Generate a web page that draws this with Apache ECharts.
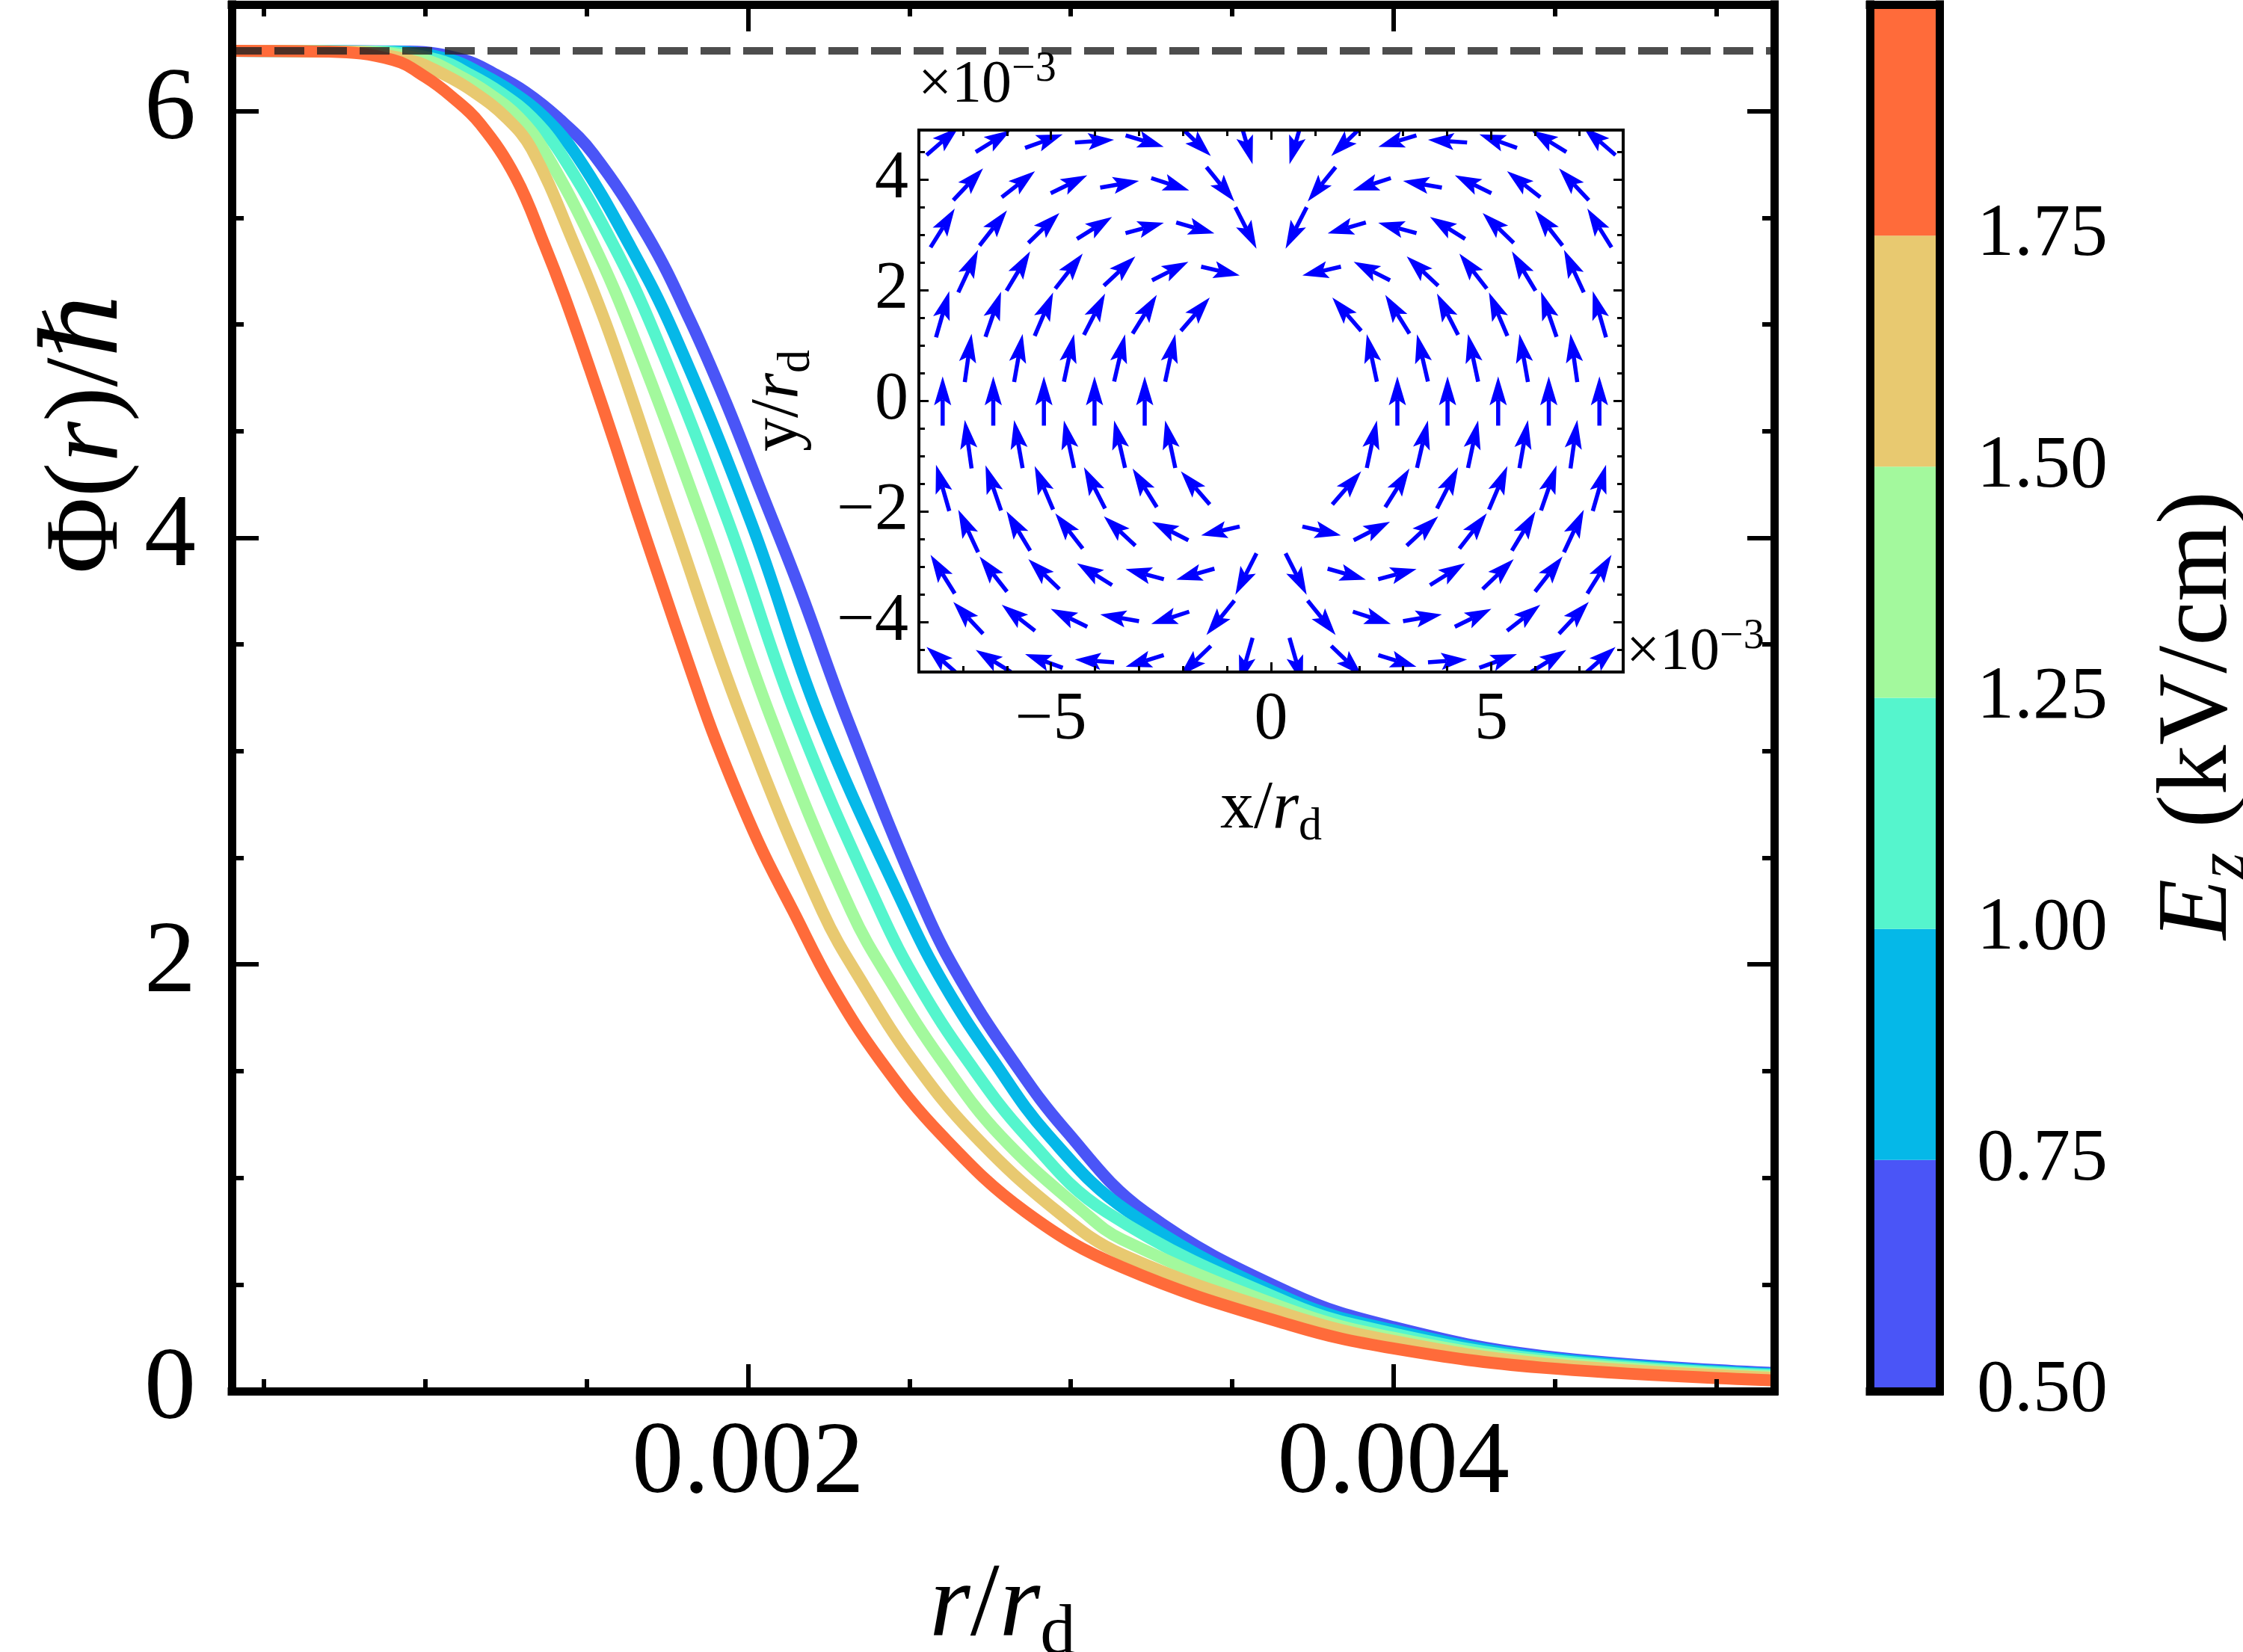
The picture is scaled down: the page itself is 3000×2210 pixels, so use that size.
<!DOCTYPE html>
<html>
<head>
<meta charset="utf-8">
<script src="https://cdn.jsdelivr.net/npm/echarts@6/dist/echarts.min.js"></script>
<style>
  html, body { margin: 0; padding: 0; background: #fff; }
  #chart { width: 3000px; height: 2210px; }
</style>
</head>
<body>
<div id="chart"></div>
<script>
// ---- main panel: Φ(r)/ħ against r/r_d, one curve per E_z band ----
const phiE050 = [[0.0004, 6.283], [0.00095, 6.279], [0.00112, 6.24], [0.00122, 6.17], [0.00131, 6.09], [0.00141, 5.97], [0.00152, 5.80], [0.00169, 5.41], [0.00182, 5.02], [0.00193, 4.64], [0.00204, 4.22], [0.00216, 3.76], [0.00231, 3.14], [0.00255, 2.25], [0.00267, 1.90], [0.00282, 1.55], [0.00298, 1.23], [0.00323, 0.84], [0.00368, 0.46], [0.004, 0.30], [0.00446, 0.165], [0.00518, 0.085]]
const phiE075 = [[0.0004, 6.283], [0.0009, 6.279], [0.00108, 6.24], [0.00118, 6.17], [0.00127, 6.09], [0.00137, 5.97], [0.00147, 5.79], [0.00163, 5.38], [0.00177, 4.96], [0.00201, 4.07], [0.00222, 3.16], [0.00249, 2.25], [0.00261, 1.90], [0.00276, 1.55], [0.00293, 1.20], [0.00318, 0.84], [0.00368, 0.43], [0.004, 0.285], [0.00446, 0.158], [0.00518, 0.08]]
const phiE100 = [[0.0004, 6.283], [0.00085, 6.279], [0.00104, 6.24], [0.00114, 6.17], [0.00123, 6.09], [0.00133, 5.97], [0.00142, 5.80], [0.00158, 5.38], [0.00171, 4.96], [0.00194, 4.07], [0.00215, 3.16], [0.00241, 2.25], [0.00253, 1.90], [0.00268, 1.55], [0.00286, 1.20], [0.00311, 0.84], [0.00368, 0.41], [0.004, 0.27], [0.00446, 0.15], [0.00518, 0.075]]
const phiE125 = [[0.0004, 6.283], [0.0008, 6.279], [0.001, 6.24], [0.0011, 6.17], [0.00119, 6.09], [0.00129, 5.97], [0.00137, 5.81], [0.00152, 5.38], [0.00164, 4.96], [0.00186, 4.07], [0.00207, 3.16], [0.00232, 2.25], [0.00245, 1.90], [0.0026, 1.55], [0.00278, 1.20], [0.00304, 0.84], [0.00316, 0.71], [0.00368, 0.38], [0.004, 0.25], [0.00446, 0.14], [0.00518, 0.068]]
const phiE150 = [[0.0004, 6.283], [0.00075, 6.279], [0.00095, 6.24], [0.00106, 6.17], [0.00115, 6.09], [0.00125, 5.97], [0.00133, 5.82], [0.00146, 5.38], [0.00157, 4.96], [0.00177, 4.07], [0.00198, 3.16], [0.00223, 2.25], [0.00236, 1.90], [0.00251, 1.55], [0.0027, 1.20], [0.00296, 0.84], [0.00316, 0.64], [0.00368, 0.355], [0.004, 0.235], [0.00446, 0.13], [0.00518, 0.062]]
const phiE175 = [[0.0004, 6.283], [0.0007, 6.279], [0.0009, 6.24], [0.001, 6.16], [0.00108, 6.07], [0.00117, 5.94], [0.00128, 5.69], [0.00137, 5.37], [0.00143, 5.135], [0.00151, 4.79], [0.00159, 4.43], [0.00165, 4.15], [0.00173, 3.79], [0.00182, 3.39], [0.0019, 3.05], [0.00203, 2.58], [0.00214, 2.25], [0.00226, 1.90], [0.00241, 1.55], [0.0026, 1.20], [0.00286, 0.84], [0.00316, 0.58], [0.00368, 0.31], [0.004, 0.20], [0.00446, 0.11], [0.00518, 0.05]]

// colour bands of the E_z bar (lower edge, kV/cm) and the matching curve colours
const bandLow = [0.5, 0.75, 1.0, 1.25, 1.5, 1.75]
const bandColors = ['#4a55f7', '#05b8e8', '#55f5cd', '#a3f99d', '#e8c970', '#ff6b3a']
const bandTicks = [0.5, 0.75, 1.0, 1.25, 1.5, 1.75]

// dashed reference level Φ = 2π
const dashR = [0.0004, 0.00518]
const dashPhi = 6.283

// main axis ticks
const rMajor = [0.002, 0.004]
const rMinor = [0.0005, 0.001, 0.0015, 0.0025, 0.003, 0.0035, 0.0045, 0.005]
const phiMajor = [0, 2, 4, 6]
const phiMinor = [0.5, 1, 1.5, 2.5, 3, 3.5, 4.5, 5, 5.5]

// ---- inset: in-plane vector field, rows of arrows (x, y in 1e-3 r_d, angle in degrees) ----
const fieldRowY = [4.70, 3.92, 3.13, 2.35, 1.57, 0.78, 0, -0.78, -1.57, -2.35, -3.13, -3.92, -4.70]
const fieldRowX = [
  [-7.46, -6.31, -5.16, -4.01, -2.87, -1.72, -0.57, 0.57, 1.72, 2.87, 4.01, 5.16, 6.31, 7.46],
  [-6.88, -5.74, -4.59, -3.44, -2.29, -1.15, 1.15, 2.29, 3.44, 4.59, 5.74, 6.88],
  [-7.46, -6.31, -5.16, -4.01, -2.87, -1.72, -0.57, 0.57, 1.72, 2.87, 4.01, 5.16, 6.31, 7.46],
  [-6.88, -5.74, -4.59, -3.44, -2.29, -1.15, 1.15, 2.29, 3.44, 4.59, 5.74, 6.88],
  [-7.46, -6.31, -5.16, -4.01, -2.87, -1.72, 1.72, 2.87, 4.01, 5.16, 6.31, 7.46],
  [-6.88, -5.74, -4.59, -3.44, -2.29, 2.29, 3.44, 4.59, 5.74, 6.88],
  [-7.46, -6.31, -5.16, -4.01, -2.87, 2.87, 4.01, 5.16, 6.31, 7.46],
  [-6.88, -5.74, -4.59, -3.44, -2.29, 2.29, 3.44, 4.59, 5.74, 6.88],
  [-7.46, -6.31, -5.16, -4.01, -2.87, -1.72, 1.72, 2.87, 4.01, 5.16, 6.31, 7.46],
  [-6.88, -5.74, -4.59, -3.44, -2.29, -1.15, 1.15, 2.29, 3.44, 4.59, 5.74, 6.88],
  [-7.46, -6.31, -5.16, -4.01, -2.87, -1.72, -0.57, 0.57, 1.72, 2.87, 4.01, 5.16, 6.31, 7.46],
  [-6.88, -5.74, -4.59, -3.44, -2.29, -1.15, 1.15, 2.29, 3.44, 4.59, 5.74, 6.88],
  [-7.46, -6.31, -5.16, -4.01, -2.87, -1.72, -0.57, 0.57, 1.72, 2.87, 4.01, 5.16, 6.31, 7.46],
]
const fieldRowAngle = [
  [41, 32, 20, 4, -17, -44, -74, 254, 224, 197, 176, 160, 148, 139],
  [47, 38, 26, 10, -18, -51, 231, 198, 170, 154, 142, 133],
  [58, 52, 44, 32, 15, -16, -63, 243, 196, 165, 148, 136, 128, 122],
  [65, 59, 52, 43, 27, -13, 193, 153, 137, 128, 121, 115],
  [74, 71, 67, 63, 58, 49, 131, 122, 117, 113, 109, 106],
  [82, 80, 78, 77, 78, 102, 103, 102, 100, 98],
  [90, 90, 90, 90, 90, 90, 90, 90, 90, 90],
  [98, 100, 102, 103, 102, 78, 77, 78, 80, 82],
  [106, 109, 113, 117, 122, 131, 49, 58, 63, 67, 71, 74],
  [115, 121, 128, 137, 153, 193, -13, 27, 43, 52, 59, 65],
  [122, 128, 136, 148, 165, 196, 243, -63, -16, 15, 32, 44, 52, 58],
  [133, 142, 154, 170, 198, 231, -51, -18, 10, 26, 38, 47],
  [139, 148, 160, 176, 197, 224, 254, -74, -44, -17, 4, 20, 32, 41],
]
const insetXMajor = [-5, 0, 5]
const insetXMinor = [-7, -6, -4, -3, -2, -1, 1, 2, 3, 4, 6, 7]
const insetYMajor = [-4, -2, 0, 2, 4]
const insetYMinor = [-4.5, -3.5, -3, -2.5, -1.5, -1, -0.5, 0.5, 1, 1.5, 2.5, 3, 3.5, 4.5]

const SERIF = "'Liberation Serif', 'Times New Roman', 'DejaVu Serif', serif"
const ARROW_LEN = 0.89 // arrow length in inset data units
const ARROW_COLOR = '#0000ff'

const chart = echarts.init(document.getElementById('chart'))

// 一个轴：线、刻度、标签都可以关掉
function makeAxis(grid, pos, min, max, o) {
  return {
    type: 'value',
    gridIndex: grid,
    position: pos,
    min: min,
    max: max,
    z: 10,
    axisLine: {
      show: !!o.line,
      onZero: false,
      lineStyle: { color: '#000', width: o.line || 1, cap: 'square' },
    },
    axisTick: o.ticks
      ? {
          show: true,
          inside: true,
          length: o.tickLen,
          customValues: o.ticks,
          lineStyle: { color: '#000', width: o.tickWidth },
        }
      : { show: false },
    axisLabel: o.labels
      ? {
          show: true,
          customValues: o.labels,
          margin: o.margin,
          fontFamily: SERIF,
          fontSize: o.fontSize,
          color: '#000',
          formatter: o.fmt,
        }
      : { show: false },
    splitLine: { show: false },
  }
}

const minusFmt = (v) => (v < 0 ? '\u2212' + Math.abs(v) : String(v))

const xAxes = [
  // main panel (grid 0)
  makeAxis(0, 'bottom', 0.0004, 0.00518, { line: 11, ticks: rMajor, tickLen: 36, tickWidth: 6, labels: rMajor, margin: 30, fontSize: 138, fmt: (v) => v.toFixed(3) }),
  makeAxis(0, 'bottom', 0.0004, 0.00518, { ticks: rMinor, tickLen: 16, tickWidth: 6 }),
  makeAxis(0, 'top', 0.0004, 0.00518, { line: 11, ticks: rMajor, tickLen: 36, tickWidth: 6 }),
  makeAxis(0, 'top', 0.0004, 0.00518, { ticks: rMinor, tickLen: 16, tickWidth: 6 }),
  // inset (grid 1)
  makeAxis(1, 'bottom', -8, 8, { line: 4, ticks: insetXMajor, tickLen: 13, tickWidth: 3, labels: insetXMajor, margin: 20, fontSize: 90, fmt: minusFmt }),
  makeAxis(1, 'bottom', -8, 8, { ticks: insetXMinor, tickLen: 8, tickWidth: 3 }),
  makeAxis(1, 'top', -8, 8, { line: 4, ticks: insetXMajor, tickLen: 13, tickWidth: 3 }),
  makeAxis(1, 'top', -8, 8, { ticks: insetXMinor, tickLen: 8, tickWidth: 3 }),
  // colour bar (grid 2)
  makeAxis(2, 'bottom', 0, 1, { line: 11 }),
  makeAxis(2, 'top', 0, 1, { line: 11 }),
]

const yAxes = [
  makeAxis(0, 'left', 0, 6.5, { line: 11, ticks: phiMajor, tickLen: 36, tickWidth: 6, labels: phiMajor, margin: 48, fontSize: 138, fmt: (v) => String(v) }),
  makeAxis(0, 'left', 0, 6.5, { ticks: phiMinor, tickLen: 16, tickWidth: 6 }),
  makeAxis(0, 'right', 0, 6.5, { line: 11, ticks: phiMajor, tickLen: 36, tickWidth: 6 }),
  makeAxis(0, 'right', 0, 6.5, { ticks: phiMinor, tickLen: 16, tickWidth: 6 }),
  makeAxis(1, 'left', -4.9, 4.9, { line: 4, ticks: insetYMajor, tickLen: 13, tickWidth: 3, labels: insetYMajor, margin: 14, fontSize: 90, fmt: minusFmt }),
  makeAxis(1, 'left', -4.9, 4.9, { ticks: insetYMinor, tickLen: 8, tickWidth: 3 }),
  makeAxis(1, 'right', -4.9, 4.9, { line: 4, ticks: insetYMajor, tickLen: 13, tickWidth: 3 }),
  makeAxis(1, 'right', -4.9, 4.9, { ticks: insetYMinor, tickLen: 8, tickWidth: 3 }),
  makeAxis(2, 'left', 0.5, 2.0, { line: 11 }),
  makeAxis(2, 'right', 0.5, 2.0, { line: 11, labels: bandTicks, margin: 50, fontSize: 100, fmt: (v) => v.toFixed(2) }),
]

// 曲线：低场（蓝）先画，高场（橙）在最上面
const curves = [phiE050, phiE075, phiE100, phiE125, phiE150, phiE175]
const curveSeries = curves.map((data, i) => ({
  type: 'line',
  xAxisIndex: 0,
  yAxisIndex: 0,
  data: data,
  showSymbol: false,
  smooth: 0.4,
  z: 2 + i * 0.1,
  lineStyle: { color: bandColors[i], width: 16, cap: 'butt', join: 'round' },
}))

// 箭头数据
const arrowData = []
fieldRowY.forEach((y, k) => {
  fieldRowX[k].forEach((x, j) => {
    arrowData.push([x, y, fieldRowAngle[k][j]])
  })
})

function renderArrow(params, api) {
  const c = api.coord([api.value(0), api.value(1)])
  const a = (api.value(2) * Math.PI) / 180
  const sx = api.size([1, 0])[0]
  const sy = api.size([0, 1])[1]
  const ca = Math.cos(a)
  const sa = Math.sin(a)
  const len = ARROW_LEN / Math.sqrt((ca / sx) ** 2 + (sa / sy) ** 2)
  const ux = ca
  const uy = -sa
  const px = -uy
  const py = ux
  const tail = [c[0] - (ux * len) / 2, c[1] - (uy * len) / 2]
  const tip = [c[0] + (ux * len) / 2, c[1] + (uy * len) / 2]
  const hl = 0.3 * len + 19
  const hw = 11.5
  const base = [tip[0] - ux * hl, tip[1] - uy * hl]
  const notch = [tip[0] - ux * hl * 0.8, tip[1] - uy * hl * 0.8]
  return {
    type: 'group',
    children: [
      {
        type: 'line',
        shape: { x1: tail[0], y1: tail[1], x2: notch[0], y2: notch[1] },
        style: { stroke: ARROW_COLOR, lineWidth: 5.5 },
      },
      {
        type: 'polygon',
        shape: {
          points: [tip, [base[0] + px * hw, base[1] + py * hw], notch, [base[0] - px * hw, base[1] - py * hw]],
        },
        style: { fill: ARROW_COLOR },
      },
    ],
  }
}

function renderBand(params, api) {
  const lo = api.value(0)
  const p0 = api.coord([0, lo + 0.25])
  const p1 = api.coord([1, lo])
  return {
    type: 'rect',
    shape: { x: p0[0], y: p0[1], width: p1[0] - p0[0], height: p1[1] - p0[1] },
    style: { fill: bandColors[params.dataIndex] },
  }
}

const option = {
  animation: false,
  backgroundColor: '#fff',
  grid: [
    { left: 310, top: 6, width: 2063, height: 1855 },
    { left: 1229, top: 174, width: 942, height: 725 },
    { left: 2501, top: 6, width: 93, height: 1855 },
  ],
  xAxis: xAxes,
  yAxis: yAxes,
  series: [
    ...curveSeries,
    {
      type: 'line',
      xAxisIndex: 0,
      yAxisIndex: 0,
      data: dashR.map((r) => [r, dashPhi]),
      showSymbol: false,
      z: 5,
      lineStyle: { color: 'rgba(32,32,32,0.8)', width: 10, type: [40, 17] },
    },
    {
      type: 'custom',
      xAxisIndex: 4,
      yAxisIndex: 4,
      data: arrowData,
      renderItem: renderArrow,
      clip: true,
      z: 3,
    },
    {
      type: 'custom',
      xAxisIndex: 8,
      yAxisIndex: 8,
      data: bandLow.map((v) => [v]),
      renderItem: renderBand,
      z: 3,
    },
  ],
  graphic: {
    elements: [
      {
        type: 'text',
        x: 119,
        y: 578,
        rotation: Math.PI / 2,
        z: 20,
        style: {
          text: '{n|\u03a6(}{i|r}{n|)/}{i|\u210f}',
          align: 'center',
          verticalAlign: 'middle',
          rich: {
            n: { fontFamily: SERIF, fontSize: 140, fill: '#000' },
            i: { fontFamily: SERIF, fontSize: 140, fontStyle: 'italic', fill: '#000' },
          },
        },
      },
      {
        type: 'text',
        x: 1341,
        y: 2150,
        z: 20,
        style: {
          text: '{i|r}{n|/}{i|r}{s|d}',
          align: 'center',
          verticalAlign: 'middle',
          rich: {
            n: { fontFamily: SERIF, fontSize: 140, lineHeight: 170, fill: '#000' },
            i: { fontFamily: SERIF, fontSize: 140, lineHeight: 170, fontStyle: 'italic', fill: '#000' },
            s: { fontFamily: SERIF, fontSize: 95, lineHeight: 95, verticalAlign: 'bottom', fill: '#000' },
          },
        },
      },
      {
        type: 'text',
        x: 1700,
        y: 1083,
        z: 20,
        style: {
          text: '{n|x/}{i|r}{s|d}',
          align: 'center',
          verticalAlign: 'middle',
          rich: {
            n: { fontFamily: SERIF, fontSize: 90, lineHeight: 110, fill: '#000' },
            i: { fontFamily: SERIF, fontSize: 90, lineHeight: 110, fontStyle: 'italic', fill: '#000' },
            s: { fontFamily: SERIF, fontSize: 62, lineHeight: 62, verticalAlign: 'bottom', fill: '#000' },
          },
        },
      },
      {
        type: 'text',
        x: 1042,
        y: 536,
        rotation: Math.PI / 2,
        z: 20,
        style: {
          text: '{n|y/}{i|r}{s|d}',
          align: 'center',
          verticalAlign: 'middle',
          rich: {
            n: { fontFamily: SERIF, fontSize: 90, lineHeight: 110, fill: '#000' },
            i: { fontFamily: SERIF, fontSize: 90, lineHeight: 110, fontStyle: 'italic', fill: '#000' },
            s: { fontFamily: SERIF, fontSize: 62, lineHeight: 62, verticalAlign: 'bottom', fill: '#000' },
          },
        },
      },
      {
        type: 'text',
        x: 1228,
        y: 165,
        z: 20,
        style: {
          text: '{n|\u00d710}{p|\u22123}',
          align: 'left',
          verticalAlign: 'bottom',
          rich: {
            n: { fontFamily: SERIF, fontSize: 80, lineHeight: 100, fill: '#000' },
            p: { fontFamily: SERIF, fontSize: 56, lineHeight: 56, verticalAlign: 'top', fill: '#000' },
          },
        },
      },
      {
        type: 'text',
        x: 2175,
        y: 924,
        z: 20,
        style: {
          text: '{n|\u00d710}{p|\u22123}',
          align: 'left',
          verticalAlign: 'bottom',
          rich: {
            n: { fontFamily: SERIF, fontSize: 80, lineHeight: 100, fill: '#000' },
            p: { fontFamily: SERIF, fontSize: 56, lineHeight: 56, verticalAlign: 'top', fill: '#000' },
          },
        },
      },
      {
        type: 'text',
        x: 2942,
        y: 957,
        rotation: Math.PI / 2,
        z: 20,
        style: {
          text: '{i|E}{s|z}{n| (kV/cm)}',
          align: 'center',
          verticalAlign: 'middle',
          rich: {
            n: { fontFamily: SERIF, fontSize: 133, lineHeight: 160, fill: '#000' },
            i: { fontFamily: SERIF, fontSize: 133, lineHeight: 160, fontStyle: 'italic', fill: '#000' },
            s: { fontFamily: SERIF, fontSize: 90, lineHeight: 90, fontStyle: 'italic', verticalAlign: 'bottom', fill: '#000' },
          },
        },
      },
    ],
  },
}

chart.setOption(option)
</script>
</body>
</html>
